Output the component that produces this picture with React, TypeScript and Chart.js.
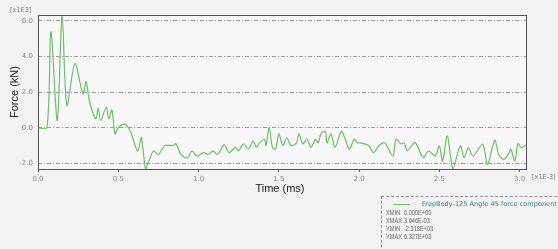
import React, { useEffect, useRef } from "react";
import { Chart, registerables } from "chart.js";

Chart.register(...registerables);

const timeMs = [
  0, 0.056, 0.08, 0.12, 0.15, 0.18, 0.23, 0.28, 0.3, 0.32, 0.36, 0.375, 0.39, 0.425, 0.44, 0.46, 0.48, 0.5, 0.54, 0.575,
  0.62, 0.64, 0.645, 0.66, 0.67, 0.69, 0.72, 0.75, 0.79, 0.84, 0.86, 0.89, 0.93, 0.96, 0.99, 1.03, 1.06, 1.09, 1.12, 1.16,
  1.19, 1.23, 1.25, 1.28, 1.31, 1.34, 1.36, 1.38, 1.41, 1.42, 1.44, 1.46, 1.48, 1.5, 1.525, 1.55, 1.575, 1.61, 1.625, 1.65,
  1.675, 1.7, 1.73, 1.745, 1.765, 1.79, 1.8, 1.825, 1.85, 1.89, 1.91, 1.94, 1.97, 1.99, 2.01, 2.06, 2.09, 2.125, 2.16, 2.21,
  2.23, 2.26, 2.28, 2.3, 2.325, 2.35, 2.4, 2.43, 2.45, 2.475, 2.5, 2.52, 2.55, 2.585, 2.63, 2.655, 2.68, 2.71, 2.77, 2.8,
  2.845, 2.87, 2.9, 2.93, 2.945, 2.97, 2.99, 3.01, 3.046,
];
const forceKN = [
  0, 0, 5.4, 0.4, 6.327, 1.25, 3.6, 1.9, 2.6, 1.5, 0.5, 1.1, 0.4, 1.15, 0.5, 1.0, -0.35, 0, 0.2, -0.2,
  -1.3, -0.65, -0.55, -1.7, -2.3, -1.9, -1.3, -1.5, -1.0, -1.0, -0.9, -1.5, -1.7, -1.3, -1.6, -1.4, -1.5, -1.3, -1.5, -0.95,
  -1.4, -1.1, -1.3, -0.9, -1.2, -0.75, -1.1, -0.85, -0.65, -1.0, 0.0, -1.1, -1.2, -0.35, -1.0, -0.55, -1.0, -0.85, -0.35, -0.9,
  -0.65, -1.1, -0.65, -0.85, -0.3, -0.2, -0.85, -0.35, -1.1, -0.2, -0.55, -1.2, -0.65, -0.85, -0.85, -1.0, -1.4, -1.0, -0.85, -1.6,
  -0.65, -0.9, -0.85, -1.3, -1.02, -0.83, -1.68, -1.31, -1.4, -1.59, -1.02, -1.87, -0.45, -2.318, -1.02, -1.68, -1.12, -1.59, -0.93, -2.06,
  -0.7, -1.5, -1.78, -1.5, -1.21, -1.87, -0.89, -1.12, -0.93,
];
const xMin = 0;
const xMax = 3.046;
const yMin = -2.318;
const yMax = 6.327;
const legendTitle = "FreeBody-125 Angle 45 force component 1";
const legendRows = [
  ["XMIN", "0.000E+00"],
  ["XMAX", "3.046E-03"],
  ["YMIN", "-2.318E+03"],
  ["YMAX", "6.327E+03"],
];

const framePlugin = {
  id: "frame",
  beforeDraw(chart: any) {
    const { ctx, chartArea: a } = chart;
    ctx.save();
    ctx.fillStyle = "#f8f8f8";
    ctx.fillRect(a.left, a.top, a.right - a.left, a.bottom - a.top);
    ctx.restore();
  },
  afterDraw(chart: any) {
    const { ctx, chartArea: a } = chart;
    ctx.save();
    ctx.strokeStyle = "#555";
    ctx.lineWidth = 1;
    ctx.strokeRect(a.left + 0.5, a.top + 0.5, a.right - a.left - 1, a.bottom - a.top);
    ctx.restore();
  },
};

export default function App() {
  const ref = useRef<HTMLCanvasElement>(null);
  useEffect(() => {
    const chart = new Chart(ref.current!, {
      type: "line",
      data: {
        datasets: [
          {
            data: timeMs.map((t, i) => ({ x: t, y: forceKN[i] })),
            borderColor: "#6cc06a",
            borderWidth: 1.2,
            pointRadius: 0,
            tension: 0.3,
          },
        ],
      },
      options: {
        animation: false,
        responsive: false,
        maintainAspectRatio: false,
        layout: { padding: { left: 0, top: 15, right: 31, bottom: 0 } },
        plugins: { legend: { display: false }, tooltip: { enabled: false } },
        scales: {
          x: {
            type: "linear",
            min: xMin,
            max: xMax,
            afterFit: (s: any) => {
              s.height = 80;
            },
            ticks: {
              stepSize: 0.5,
              includeBounds: false,
              maxRotation: 0,
              padding: 3,
              color: "#8a8a8a",
              font: { size: 7, family: "DejaVu Sans" },
              callback: (v: any) => Number(v).toFixed(1),
            },
            grid: { display: true, drawOnChartArea: false, tickLength: 3, color: "#555" },
            border: { display: false },
          },
          y: {
            type: "linear",
            min: yMin,
            max: yMax,
            afterFit: (s: any) => {
              s.width = 38;
            },
            ticks: {
              stepSize: 2,
              includeBounds: false,
              padding: 5,
              color: "#8a8a8a",
              font: { size: 7, family: "DejaVu Sans" },
              callback: (v: any) => Number(v).toFixed(1),
            },
            grid: {
              color: "#9a9a9a",
              lineWidth: 1,
              drawTicks: false,
            },
            border: { display: false, dash: [4, 2, 1, 2] },
          },
        },
      },
      plugins: [framePlugin],
    });
    chart.update();
    return () => chart.destroy();
  }, []);

  const small: React.CSSProperties = {
    position: "absolute",
    fontFamily: "DejaVu Sans, sans-serif",
    fontSize: 6.5,
    color: "#777",
    whiteSpace: "nowrap",
    lineHeight: 1,
  };
  const rowFont: React.CSSProperties = {
    ...small,
    fontFamily: "Liberation Sans, Arial, sans-serif",
    fontSize: 7,
    color: "#666",
    transform: "scaleX(0.8)",
    transformOrigin: "left top",
  };

  return (
    <div style={{ position: "absolute", left: 0, top: 0, width: 558, height: 249, background: "#f2f2f2", overflow: "hidden" }}>
      <canvas ref={ref} width={558} height={249} style={{ position: "absolute", left: 0, top: 0 }} />
      <div style={{ ...small, left: 10, top: 7 }}>[x1E3]</div>
      <div style={{ ...small, left: 532, top: 174 }}>[x1E-3]</div>
      <div
        style={{
          position: "absolute",
          left: 14,
          top: 92,
          transform: "translate(-50%, -50%) rotate(-90deg)",
          fontFamily: "Liberation Sans, Arial, sans-serif",
          fontSize: 11,
          color: "#222",
          whiteSpace: "nowrap",
        }}
      >
        Force (kN)
      </div>
      <div
        style={{
          position: "absolute",
          left: 280,
          top: 188,
          transform: "translate(-50%, -50%)",
          fontFamily: "Liberation Sans, Arial, sans-serif",
          fontSize: 11,
          color: "#222",
          whiteSpace: "nowrap",
        }}
      >
        Time (ms)
      </div>
      <div
        style={{
          position: "absolute",
          left: 381,
          top: 196,
          width: 200,
          height: 70,
          borderTop: "1px dashed #999",
          borderLeft: "1px dashed #999",
        }}
      />
      <div style={{ position: "absolute", left: 393, top: 204, width: 17, height: 1, background: "#6cc06a" }} />
      <div style={{ ...small, left: 422, top: 201, color: "#3b7d95", fontSize: 6.6 }}>{legendTitle}</div>
      {legendRows.map((r, i) => (
        <React.Fragment key={r[0]}>
          <div style={{ ...rowFont, left: 386, top: 209 + i * 8.1 }}>{r[0]}</div>
          <div style={{ ...rowFont, left: 404, top: 209 + i * 8.1 }}>{r[1]}</div>
        </React.Fragment>
      ))}
    </div>
  );
}
